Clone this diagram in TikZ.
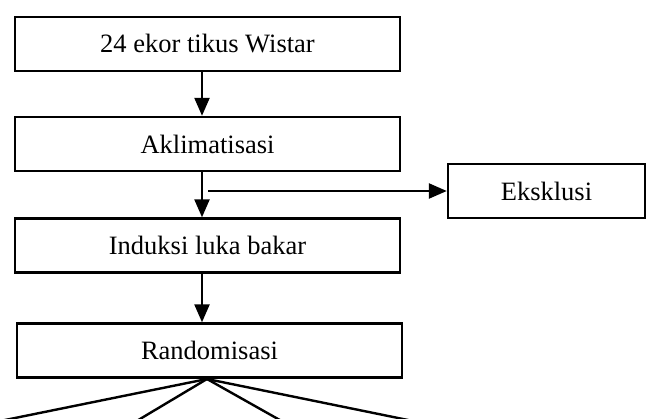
\documentclass[tikz,border=0pt]{standalone}
\usepackage{fontspec}
\setmainfont{Liberation Serif}
\usetikzlibrary{arrows.meta}
\begin{document}
\begin{tikzpicture}[x=1pt,y=-1pt,
  stepbox/.style={draw,line width=2.4pt,minimum width=385pt,minimum height=54pt,inner sep=0pt,font=\fontsize{26.5}{30}\selectfont},
  flow/.style={line width=2.4pt,-{Triangle[width=15pt,length=18pt]}},
  branch/.style={line width=2.4pt,shorten >=-6pt}]
\useasboundingbox (0,0) rectangle (647,419);
\node[stepbox] (b1) at (207.5,44) {24 ekor tikus Wistar};
\node[stepbox] (b2) at (207.5,144) {Aklimatisasi};
\node[stepbox] (b3) at (207.5,245.5) {Induksi luka bakar};
\node[stepbox] (b4) at (209.5,350.5) {Randomisasi};
\node[stepbox,minimum width=197pt] (ex) at (546.5,191) {Eksklusi};
\coordinate (split) at (208,191);
\coordinate (apex) at (207,379);
\coordinate (g1) at (10,419);
\coordinate (g2) at (140,419);
\coordinate (g3) at (278,419);
\coordinate (g4) at (403,419);
\draw[flow] ([xshift=-5.5pt]b1.south) -- ([xshift=-5.5pt]b2.north);
\draw[flow] ([xshift=-5.5pt]b2.south) -- ([xshift=-5.5pt]b3.north);
\draw[flow] ([xshift=-5.5pt]b3.south) -- ([xshift=-7.5pt]b4.north);
\draw[flow] (split) -- (ex.west);
\foreach \g in {g1,g2,g3,g4} \draw[branch] (apex) -- (\g);
\end{tikzpicture}
\end{document}
